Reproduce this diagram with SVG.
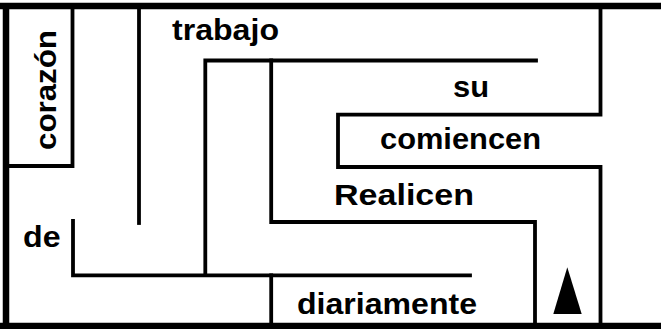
<svg xmlns="http://www.w3.org/2000/svg" width="661" height="329" viewBox="0 0 661 329">
<style>
.w{stroke:#000;stroke-width:3.8;fill:none;stroke-linecap:square}
.f{stroke:#000;stroke-width:6.5;fill:none;stroke-linecap:square}
.t{font-family:"Liberation Sans",Arial,sans-serif;font-weight:bold;font-size:30px;fill:#000}
</style>
<rect width="661" height="329" fill="#fff"/>
<g id="frame">
<path class="f" d="M0 6H661M6 6V326M0 326H661"/>
</g>
<g id="walls">
<path class="w" d="M72.5 6V166H6"/>
<path class="w" d="M139 6V223"/>
<path class="w" d="M205.3 273V60.5H536"/>
<path class="w" d="M271.2 60.5V222H535V326"/>
<path class="w" d="M73 221V275.3H470"/>
<path class="w" d="M271.2 275.3V326"/>
<path class="w" d="M600.5 6V114.7H338V167H600.5V326"/>
</g>
<g id="arrow">
<polygon points="567.3,267.3 553.3,314 581.7,314" fill="#000"/>
</g>
<g id="labels">
<text class="t" x="172" y="39.5" textLength="107" lengthAdjust="spacingAndGlyphs">trabajo</text>
<text class="t" x="453" y="96.7" textLength="36" lengthAdjust="spacingAndGlyphs">su</text>
<text class="t" x="380" y="148.5" textLength="161" lengthAdjust="spacingAndGlyphs">comiencen</text>
<text class="t" x="334" y="204.5" textLength="140" lengthAdjust="spacingAndGlyphs">Realicen</text>
<text class="t" x="23" y="247.3" textLength="37.5" lengthAdjust="spacingAndGlyphs">de</text>
<text class="t" x="297" y="314" textLength="180" lengthAdjust="spacingAndGlyphs">diariamente</text>
<text class="t" transform="translate(56,150) rotate(-90)" textLength="120" lengthAdjust="spacingAndGlyphs">corazón</text>
</g>
</svg>
